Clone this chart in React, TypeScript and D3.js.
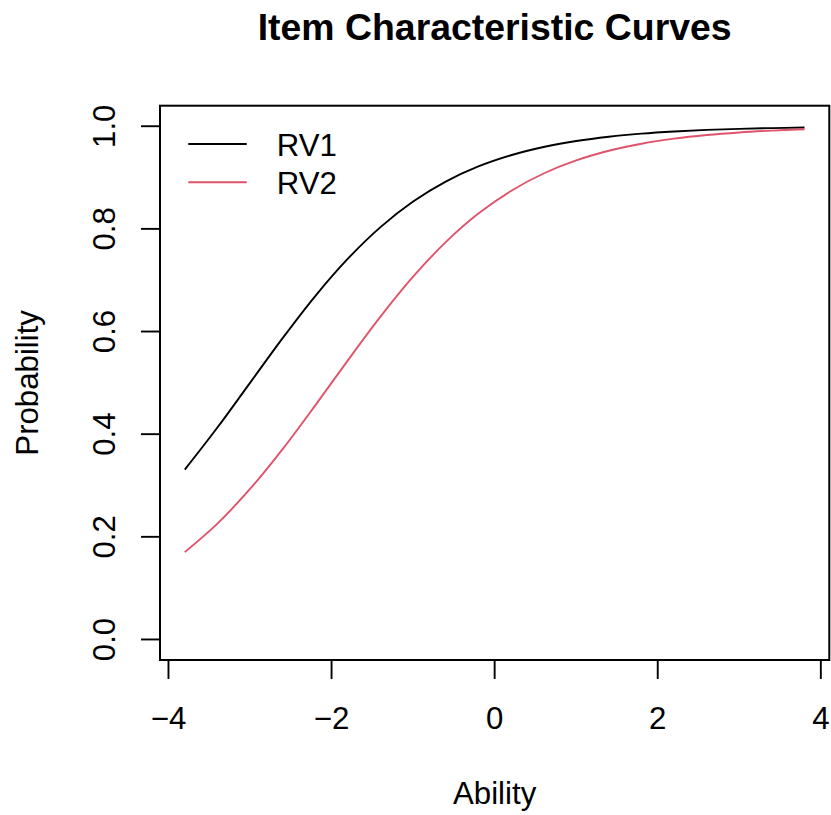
import React from "react";
import * as d3 from "d3";

const abilityValues = [-3.8, -3.4, -3.0, -2.6, -2.2, -1.8, -1.4, -1.0, -0.6, -0.2, 0.2, 0.6, 1.0, 1.4, 1.8, 2.2, 2.6, 3.0, 3.4, 3.8];
const rv1Values = [0.3309, 0.4129, 0.5, 0.5871, 0.6691, 0.7419, 0.8034, 0.8532, 0.8921, 0.9216, 0.9435, 0.9596, 0.9712, 0.9796, 0.9856, 0.9898, 0.9928, 0.9949, 0.9964, 0.9975];
const rv2Values = [0.1702, 0.2258, 0.2932, 0.3710, 0.4561, 0.5439, 0.6290, 0.7068, 0.7742, 0.8298, 0.8739, 0.9079, 0.9334, 0.9522, 0.9659, 0.9758, 0.9829, 0.9879, 0.9914, 0.9940];
const seriesNames = ["RV1", "RV2"];
const seriesColors = ["#000000", "#DF536B"];
const xTicks = [-4, -2, 0, 2, 4];
const yTicks = [0, 0.2, 0.4, 0.6, 0.8, 1.0];
const titleText = "Item Characteristic Curves";
const xLabel = "Ability";
const yLabel = "Probability";

const W = 831;
const H = 815;
const left = 160;
const right = 829.3;
const top = 105.7;
const bottom = 660;
const FONT = "'Liberation Sans', Arial, sans-serif";
const FS = 31.2;

export default function App() {
  const x = d3.scaleLinear().domain([-4.104, 4.104]).range([left, right]);
  const y = d3.scaleLinear().domain([-0.04, 1.04]).range([bottom, top]);
  const series = [rv1Values, rv2Values];
  const line = d3
    .line<number>()
    .x((_, i) => x(abilityValues[i]))
    .y((d) => y(d))
    .curve(d3.curveCatmullRom.alpha(0.5));
  const fmt = (v: number) => (v < 0 ? "\u2212" + Math.abs(v) : String(v));

  return (
    <svg
      width={W}
      height={H}
      style={{ position: "absolute", left: 0, top: 0, background: "#fff" }}
      fontFamily={FONT}
    >
      <rect x={0} y={0} width={W} height={H} fill="#fff" />
      <text x={(left + right) / 2} y={40} textAnchor="middle" fontSize={37.4} fontWeight="bold">
        {titleText}
      </text>
      {series.map((s, k) => (
        <path key={k} d={line(s) || ""} fill="none" stroke={seriesColors[k]} strokeWidth={1.9} />
      ))}
      <rect x={left} y={top} width={right - left} height={bottom - top} fill="none" stroke="#000" strokeWidth={2} />
      {xTicks.map((t) => (
        <g key={"x" + t}>
          <line x1={x(t)} x2={x(t)} y1={bottom} y2={bottom + 19} stroke="#000" strokeWidth={1.9} />
          <text x={x(t)} y={729} textAnchor="middle" fontSize={FS}>
            {fmt(t)}
          </text>
        </g>
      ))}
      <line x1={x(-4)} x2={x(4)} y1={bottom} y2={bottom} stroke="#000" strokeWidth={2} />
      {yTicks.map((t) => (
        <g key={"y" + t}>
          <line x1={left - 19} x2={left} y1={y(t)} y2={y(t)} stroke="#000" strokeWidth={1.9} />
          <text
            transform={`translate(114.5,${y(t)}) rotate(-90)`}
            textAnchor="middle"
            fontSize={FS}
          >
            {t.toFixed(1)}
          </text>
        </g>
      ))}
      <line x1={left} x2={left} y1={y(0)} y2={y(1)} stroke="#000" strokeWidth={2} />
      <text x={(left + right) / 2} y={804} textAnchor="middle" fontSize={FS}>
        {xLabel}
      </text>
      <text transform={`translate(37.5,${(top + bottom) / 2}) rotate(-90)`} textAnchor="middle" fontSize={FS}>
        {yLabel}
      </text>
      {seriesNames.map((n, k) => (
        <g key={n}>
          <line x1={188.3} x2={246.7} y1={144 + k * 38.3} y2={144 + k * 38.3} stroke={seriesColors[k]} strokeWidth={1.9} />
          <text x={276.7} y={155.7 + k * 38.3} fontSize={FS}>
            {n}
          </text>
        </g>
      ))}
    </svg>
  );
}
